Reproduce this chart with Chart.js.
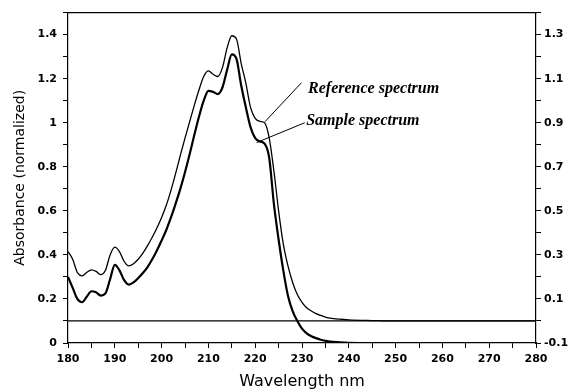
<!DOCTYPE html>
<html>
<head>
<meta charset="utf-8">
<script src="https://cdn.jsdelivr.net/npm/chart.js@4/dist/chart.umd.min.js"></script>
<style>
  html, body { margin: 0; padding: 0; background: #fff; }
  canvas { display: block; }
</style>
</head>
<body>
<canvas id="spectrumChart" width="571" height="392"></canvas>
<script>
// wavelength grid (nm)
const wavelengths = [
  180, 181, 182, 183, 184, 185, 186, 187, 188, 189,
  190, 191, 192, 193, 194, 195, 196, 197, 198, 199,
  200, 201, 202, 203, 204, 205, 206, 207, 208, 209,
  210, 211, 212, 213, 214, 215, 216, 217, 218, 219,
  220, 221, 222, 223, 224, 225, 226, 227, 228, 229,
  230, 231, 232, 233, 234, 235, 236, 238, 240, 245,
  250, 260, 270, 280
];

// sample spectrum - left axis
const sampleAbs = [
  0.30, 0.25, 0.20, 0.185, 0.21, 0.235, 0.23, 0.215, 0.225, 0.29,
  0.355, 0.33, 0.285, 0.265, 0.275, 0.295, 0.318, 0.345, 0.38, 0.42,
  0.465, 0.513, 0.57, 0.633, 0.70, 0.775, 0.858, 0.945, 1.028, 1.10,
  1.145, 1.14, 1.13, 1.16, 1.24, 1.31, 1.29, 1.17, 1.07, 0.98,
  0.93, 0.915, 0.905, 0.84, 0.63, 0.47, 0.33, 0.215, 0.145, 0.10,
  0.065, 0.044, 0.031, 0.022, 0.015, 0.01, 0.006, 0.003, 0.001, 0,
  0, 0, 0, 0
];

// reference spectrum - right axis
const referenceAbs = [
  0.315, 0.28, 0.22, 0.205, 0.22, 0.232, 0.225, 0.21, 0.23, 0.30,
  0.335, 0.315, 0.27, 0.25, 0.26, 0.28, 0.308, 0.342, 0.38, 0.422,
  0.47, 0.525, 0.593, 0.67, 0.752, 0.83, 0.905, 0.98, 1.05, 1.11,
  1.135, 1.12, 1.11, 1.15, 1.24, 1.295, 1.28, 1.17, 1.08, 0.97,
  0.92, 0.906, 0.90, 0.83, 0.68, 0.50, 0.35, 0.25, 0.175, 0.12,
  0.085, 0.06, 0.045, 0.033, 0.025, 0.018, 0.013, 0.008, 0.005, 0.002,
  0, 0, 0, 0
];

// baseline of the reference trace (right axis zero)
const baselineX = [180, 280];
const baselineY = [0, 0];

// callout labels (data units, left axis)
const noteText = ['Reference spectrum', 'Sample spectrum'];
const noteX = [231.3, 230.9];
const noteY = [1.136, 0.991];
const leaderFromX = [222.1, 220.3];
const leaderFromY = [1.005, 0.91];
const leaderToX = [229.9, 230.6];
const leaderToY = [1.182, 1.0];

const toPoints = (xs, ys) => xs.map((x, i) => ({ x: x, y: ys[i] }));

const tickFont = { family: 'DejaVu Sans', size: 11, weight: 'bold' };

// 말풍선 라벨 그리기
const calloutPlugin = {
  id: 'callouts',
  afterDatasetsDraw(chart) {
    const ctx = chart.ctx;
    const xs = chart.scales.x;
    const ys = chart.scales.y;
    ctx.save();
    ctx.strokeStyle = '#000';
    ctx.lineWidth = 1;
    ctx.fillStyle = '#000';
    ctx.font = 'italic bold 16px "Liberation Serif"';
    ctx.textBaseline = 'alphabetic';
    noteText.forEach((t, i) => {
      ctx.beginPath();
      ctx.moveTo(xs.getPixelForValue(leaderFromX[i]), ys.getPixelForValue(leaderFromY[i]));
      ctx.lineTo(xs.getPixelForValue(leaderToX[i]), ys.getPixelForValue(leaderToY[i]));
      ctx.stroke();
      ctx.fillText(t, xs.getPixelForValue(noteX[i]), ys.getPixelForValue(noteY[i]));
    });
    ctx.restore();
  }
};

const ctx = document.getElementById('spectrumChart').getContext('2d');
const chart = new Chart(ctx, {
  type: 'line',
  data: {
    datasets: [
      {
        label: 'Sample spectrum',
        data: toPoints(wavelengths, sampleAbs),
        borderColor: '#000',
        borderWidth: 2.2,
        pointRadius: 0,
        cubicInterpolationMode: 'monotone',
        yAxisID: 'y',
      },
      {
        label: 'Reference spectrum',
        data: toPoints(wavelengths, referenceAbs),
        borderColor: '#000',
        borderWidth: 1.3,
        pointRadius: 0,
        cubicInterpolationMode: 'monotone',
        yAxisID: 'y2',
      },
      {
        label: 'baseline',
        data: toPoints(baselineX, baselineY),
        borderColor: '#000',
        borderWidth: 1.2,
        pointRadius: 0,
        yAxisID: 'y2',
      },
    ],
  },
  options: {
    responsive: false,
    animation: false,
    layout: { padding: { top: 11, left: 0, right: 0, bottom: 0 } },
    plugins: {
      legend: { display: false },
      tooltip: { enabled: false },
    },
    scales: {
      x: {
        type: 'linear',
        position: 'bottom',
        min: 180,
        max: 280,
        grid: { drawOnChartArea: false, tickLength: 5, color: '#000' },
        border: { color: '#000', width: 1.2 },
        ticks: {
          stepSize: 5,
          autoSkip: false,
          maxRotation: 0,
          padding: 5,
          color: '#000',
          font: tickFont,
          callback: v => (v % 10 === 0 ? String(v) : ''),
        },
        title: {
          display: true,
          text: 'Wavelength nm',
          color: '#000',
          font: { family: 'DejaVu Sans', size: 16 },
          padding: { top: 0, bottom: 1 },
        },
        afterFit: s => { s.height = 49; },
      },
      xTop: {
        type: 'linear',
        position: 'top',
        min: 180,
        max: 280,
        grid: { drawOnChartArea: false, drawTicks: false },
        border: { color: '#000', width: 1.2 },
        ticks: { display: false },
        afterFit: s => { s.height = 0; },
      },
      y: {
        position: 'left',
        min: 0,
        max: 1.5,
        grid: { drawOnChartArea: false, tickLength: 5, color: '#000' },
        border: { color: '#000', width: 1.2 },
        ticks: {
          stepSize: 0.1,
          autoSkip: false,
          padding: 6,
          color: '#000',
          font: tickFont,
          callback: v => {
            const n = Math.round(v * 10);
            if (n % 2 !== 0 || n > 14) return '';
            return n % 10 === 0 ? String(n / 10) : (n / 10).toFixed(1);
          },
        },
        title: {
          display: true,
          text: 'Absorbance (normalized)',
          color: '#000',
          font: { family: 'DejaVu Sans', size: 14 },
          padding: { top: 12, bottom: 0 },
        },
        afterFit: s => { s.width = 68; },
      },
      y2: {
        position: 'right',
        min: -0.1,
        max: 1.4,
        grid: { drawOnChartArea: false, tickLength: 5, color: '#000' },
        border: { color: '#000', width: 1.2 },
        ticks: {
          stepSize: 0.1,
          autoSkip: false,
          padding: 3,
          color: '#000',
          font: tickFont,
          callback: v => {
            const n = Math.round(v * 10);
            return Math.abs(n) % 2 === 1 ? (n / 10).toFixed(1) : '';
          },
        },
        afterFit: s => { s.width = 35; },
      },
    },
  },
  plugins: [calloutPlugin],
});
</script>
</body>
</html>
